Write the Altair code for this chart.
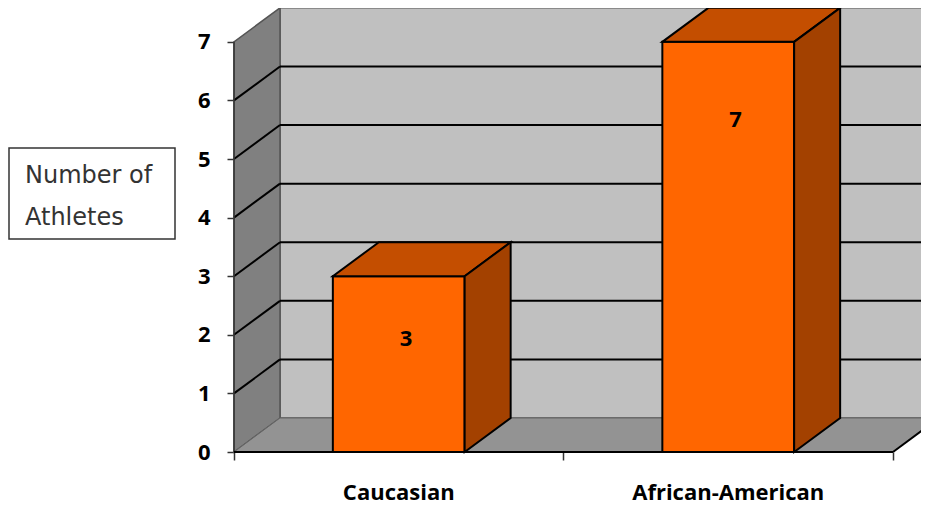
import altair as alt
import pandas as pd

# ---- data ----
categories = ["Caucasian", "African-American"]
values = [3, 7]
y_ticks = [0, 1, 2, 3, 4, 5, 6, 7]
x_ticks = [0, 1, 2]
grid_values = [1, 2, 3, 4, 5, 6]
legend_lines = ["Number of", "Athletes"]

# ---- geometry (data units) ----
XMAX = 2.085
YMAX = 7.509
DX = 0.1396   # depth offset in x
DY = 0.58     # depth offset in y
HALF = 0.2    # half bar width
TOPV = max(y_ticks)

xs = alt.Scale(domain=[0, XMAX], nice=False, zero=False)
ys = alt.Scale(domain=[0, YMAX], nice=False, zero=False)

FONT = "Open Sans"

XAX = alt.Axis(values=x_ticks, labels=False, domain=False, grid=False,
               tickSize=8, tickColor="#333333", tickWidth=1.5, title=None)
YAX = alt.Axis(values=y_ticks, domain=False, grid=False, title=None,
               tickSize=7, tickColor="#333333", tickWidth=1.5,
               labelFont=FONT, labelFontWeight="bold", labelFontSize=22,
               labelColor="black", labelPadding=17)


def X(f):
    return alt.X(f, scale=xs, axis=XAX)


def Y(f):
    return alt.Y(f, scale=ys, axis=YAX)


# back wall
back_df = pd.DataFrame({"x": [DX], "x2": [XMAX + 0.3], "y": [DY], "y2": [TOPV + DY]})
back = alt.Chart(back_df).mark_rect(fill="#C0C0C0", stroke="#555555", strokeWidth=1.5).encode(
    x=X("x:Q"), x2="x2", y=Y("y:Q"), y2="y2")

# side wall
side_df = pd.DataFrame({"x": [0, DX], "y": [0, DY], "y2": [TOPV, TOPV + DY]})
side = alt.Chart(side_df).mark_area(fill="#808080", stroke="#555555", strokeWidth=1.5).encode(
    x=X("x:Q"), y=Y("y:Q"), y2="y2")

# floor
floor_df = pd.DataFrame({"y": [0, DY], "x": [0, DX], "x2": [2, 2 + DX]})
floor = alt.Chart(floor_df).mark_area(orient="horizontal", fill="#939393", stroke="#666666",
                                      strokeWidth=1).encode(
    y=Y("y:Q"), x=X("x:Q"), x2="x2")

# gridlines on back wall
g_df = pd.DataFrame({"v": grid_values})
g_df["y"] = g_df["v"] + DY
g_df["x"] = DX
g_df["x2"] = XMAX + 0.3
grid_back = alt.Chart(g_df).mark_rule(color="black", strokeWidth=2).encode(
    x=X("x:Q"), x2="x2", y=Y("y:Q"))

# diagonal gridlines on side wall
d_df = pd.DataFrame({"v": grid_values})
d_df["x"] = 0.0
d_df["x2"] = DX
d_df["y"] = d_df["v"]
d_df["y2"] = d_df["v"] + DY
grid_side = alt.Chart(d_df).mark_rule(color="black", strokeWidth=2).encode(
    x=X("x:Q"), x2="x2", y=Y("y:Q"), y2="y2")

# front y axis line
yl_df = pd.DataFrame({"x": [0], "y": [0], "y2": [TOPV]})
y_line = alt.Chart(yl_df).mark_rule(color="#333333", strokeWidth=1.5).encode(
    x=X("x:Q"), y=Y("y:Q"), y2="y2")

# floor front edge and right edge
fe_df = pd.DataFrame({"x": [0, 2], "x2": [2, 2 + DX], "y": [0, 0], "y2": [0, DY]})
floor_edges = alt.Chart(fe_df).mark_rule(color="black", strokeWidth=2).encode(
    x=X("x:Q"), x2="x2", y=Y("y:Q"), y2="y2")

# bars
bar_df = pd.DataFrame({"cat": categories, "v": values})
bar_df["c"] = [i + 0.5 for i in range(len(categories))]
bar_df["xl"] = bar_df["c"] - HALF
bar_df["xr"] = bar_df["c"] + HALF
bar_df["zero"] = 0.0

front = alt.Chart(bar_df).mark_rect(fill="#FF6600", stroke="black", strokeWidth=2).encode(
    x=X("xl:Q"), x2="xr", y=Y("zero:Q"), y2="v")

top_rows = []
right_rows = []
for cat, v, c in zip(bar_df["cat"], bar_df["v"], bar_df["c"]):
    top_rows.append({"cat": cat, "y": v, "x": c - HALF, "x2": c + HALF})
    top_rows.append({"cat": cat, "y": v + DY, "x": c - HALF + DX, "x2": c + HALF + DX})
    right_rows.append({"cat": cat, "x": c + HALF, "y": 0.0, "y2": v})
    right_rows.append({"cat": cat, "x": c + HALF + DX, "y": DY, "y2": v + DY})

top = alt.Chart(pd.DataFrame(top_rows)).mark_area(orient="horizontal", fill="#C44E00", stroke="black",
                                                  strokeWidth=2).encode(
    y=Y("y:Q"), x=X("x:Q"), x2="x2", detail="cat:N")

right = alt.Chart(pd.DataFrame(right_rows)).mark_area(fill="#A34100", stroke="black",
                                                      strokeWidth=2).encode(
    x=X("x:Q"), y=Y("y:Q"), y2="y2", detail="cat:N")

# value labels
vlab = alt.Chart(bar_df).transform_calculate(
    lx="datum.c + 0.022", ly="datum.v * 0.934 - 0.87").mark_text(
    font=FONT, fontWeight="bold", fontSize=22, color="black", baseline="middle", align="center").encode(
    x=X("lx:Q"), y=Y("ly:Q"), text="v:Q")

# category labels
clab = alt.Chart(bar_df).transform_calculate(ly="-0.70").mark_text(
    font=FONT, fontWeight="bold", fontSize=22, color="black", baseline="middle", align="center").encode(
    x=X("c:Q"), y=Y("ly:Q"), text="cat:N")

# "Number of Athletes" box
leg_df = pd.DataFrame({"t": [0]})
leg_box = alt.Chart(leg_df).mark_rect(fill="white", stroke="#333333", strokeWidth=1.5).encode(
    x=alt.value(-225), x2=alt.value(-59), y=alt.value(136), y2=alt.value(227))
leg_text = alt.Chart(leg_df).mark_text(
    text=legend_lines, font="DejaVu Sans", fontSize=24, color="#333333", align="left",
    baseline="alphabetic", lineHeight=42).encode(
    x=alt.value(-209), y=alt.value(171))

chart = alt.layer(back, side, floor, grid_back, grid_side, y_line, floor_edges,
                  front, top, right, vlab, clab, leg_box, leg_text).properties(
    width=687, height=440, autosize="none",
    padding={"left": 226, "top": 4, "right": 0, "bottom": 54},
    background="white",
).configure_view(stroke=None)

chart.save("out.html", embed_options={"renderer": "svg", "actions": False})
